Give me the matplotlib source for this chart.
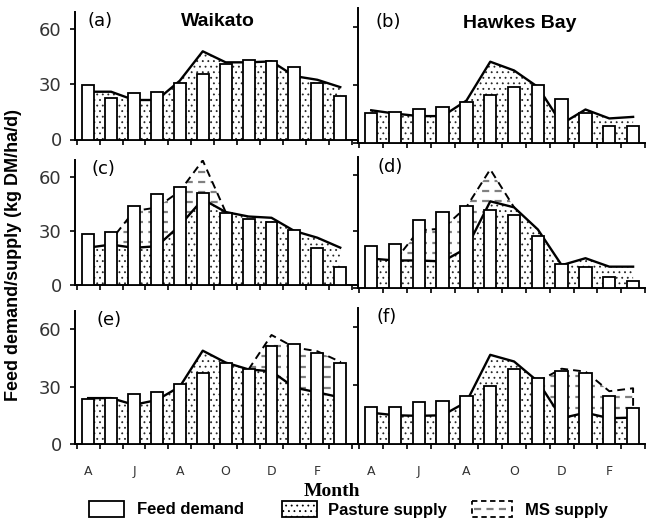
import numpy as np
import matplotlib
matplotlib.use('Agg')
import matplotlib.pyplot as plt
from matplotlib.patches import Rectangle

# month axis (April to March)
months = ['A', 'M', 'J', 'J', 'A', 'S', 'O', 'N', 'D', 'J', 'F', 'M']
tick_labels = ['A', 'J', 'A', 'O', 'D', 'F']
x = np.arange(len(months))

# (a) Waikato
demand_a = [29.6, 22.8, 25.4, 26.1, 30.6, 35.4, 41.1, 43.3, 42.9, 39.4, 30.6, 23.7]
pasture_a = [26, 26, 21.5, 21.5, 32, 48, 42, 42, 42.5, 34.5, 32.5, 28.5]
# (b) Hawkes Bay
demand_b = [15.7, 16, 17.9, 18.6, 21.5, 25, 28.8, 30.2, 23, 15.7, 8.9, 8.9]
pasture_b = [17, 15.3, 14, 14, 22, 42, 37.5, 29, 10, 17.4, 12.8, 13.6]
# (c) Waikato
demand_c = [28.2, 29.3, 43.9, 50.4, 54.2, 51.1, 40, 36.7, 35, 30.6, 20.5, 10.3]
pasture_c = [20.8, 22.5, 20.7, 21.6, 33, 47.5, 40.5, 38, 37.3, 30, 26.3, 20.8]
ms_c = [None, 25, 41, 43, 52, 69, 40.5, None, None, None, None, None]
# (d) Hawkes Bay
demand_d = [22.3, 23.2, 36.2, 40.1, 43.3, 41.5, 38.5, 27.3, 12.5, 11.2, 5.9, 3.6]
pasture_d = [15.5, 14.5, 14.5, 14, 21, 46, 42.8, 31, 12, 15.7, 11.2, 11.2]
ms_d = [None, 14.5, 30.5, 31.5, 43, 63, 42.8, None, None, None, None, None]
# (e) Waikato
demand_e = [23.4, 23.9, 26.2, 27.2, 31.6, 37, 42.6, 39.4, 51, 52.4, 47.5, 42.2]
pasture_e = [24, 24, 20.5, 23, 30, 48.8, 42.6, 39, 38, 29.5, 27, 24.4]
ms_e = [None, None, None, None, None, None, None, 39, 57, 50.5, 48.5, 43]
# (f) Hawkes Bay
demand_f = [18.8, 19.1, 21.4, 22.2, 24.6, 29.9, 38.3, 33.7, 37.4, 36.2, 24.3, 18.3]
pasture_f = [16, 14.7, 14.4, 14.7, 21.5, 45.6, 42.2, 32, 13.2, 16, 13.2, 13.5]
ms_f = [None, None, None, None, None, None, None, 32, 38.5, 37, 27, 28.5]

W, H = 647, 519
plt.rcParams['font.family'] = 'DejaVu Sans'
plt.rcParams['hatch.linewidth'] = 0.6
fig = plt.figure(figsize=(W / 100, H / 100), dpi=100)


def place(x0, x1, top, bottom):
    return [x0 / W, 1 - bottom / H, (x1 - x0) / W, (bottom - top) / H]


def draw_panel(ax, demand, pasture, ms=None):
    pasture = np.asarray(pasture, float)
    ax.fill_between(x, 0, pasture, facecolor='white', edgecolor='0.15',
                    hatch='...', linewidth=0, zorder=1)
    ax.plot(x, pasture, color='black', lw=1.7, zorder=2)
    if ms is not None:
        ms = np.array(ms, dtype=float)
        idx = np.where(~np.isnan(ms))[0]
        xs, lo, hi = x[idx], pasture[idx], ms[idx]
        poly = ax.fill_between(xs, lo, hi, facecolor='white', edgecolor='none', zorder=1.5)
        clip = poly.get_paths()[0]
        for yy in np.arange(2, 72, 5.5):
            ln, = ax.plot([xs[0], xs[-1]], [yy, yy], color='0.5', lw=1.6,
                          dashes=(3.2, 2.4), zorder=1.6)
            ln.set_clip_path(clip, ax.transData)
        ox = np.r_[xs[0], xs, xs[-1]]
        oy = np.r_[lo[0], hi, lo[-1]]
        ax.plot(ox, oy, color='black', lw=1.4, dashes=(4, 2.6), zorder=2)
    ax.bar(x, demand, width=0.52, color='white', edgecolor='black', lw=1.3, zorder=3)


panels = [
    ('(a)', demand_a, pasture_a, None, 'L', 11.8, 139.5, (100, 21)),
    ('(b)', demand_b, pasture_b, None, 'R', 8.3, 143.3, (388, 22)),
    ('(c)', demand_c, pasture_c, ms_c, 'L', 159.5, 285.3, (103, 169)),
    ('(d)', demand_d, pasture_d, ms_d, 'R', 157.2, 287.7, (390, 167.5)),
    ('(e)', demand_e, pasture_e, ms_e, 'L', 311.1, 444, (109, 320)),
    ('(f)', demand_f, pasture_f, ms_f, 'R', 308.1, 444, (387, 317.5)),
]

for i, (lab, dem, pas, ms, side, top, bot, lpos) in enumerate(panels):
    if side == 'L':
        ax = fig.add_axes(place(75, 358, top, bot))
        ax.set_xlim(-0.574, 11.775)
    else:
        ax = fig.add_axes(place(358, 645, top, bot))
        ax.set_xlim(-0.555, 11.5)
    ax.set_ylim(0, 69.5)
    ax.patch.set_alpha(0)
    draw_panel(ax, dem, pas, ms)
    for s in ['top', 'right']:
        ax.spines[s].set_visible(False)
    for s in ['left', 'bottom']:
        ax.spines[s].set_linewidth(1.4)
    ax.set_yticks([0, 30, 60])
    ax.set_xticks(x[::2])
    ax.set_xticklabels(tick_labels)
    ax.set_xticks(np.arange(-0.5, 12, 1), minor=True)
    ax.tick_params(axis='x', which='major', length=0, pad=15, labelsize=9,
                   labelcolor='#333')
    ax.tick_params(axis='x', which='minor', length=3.6, width=1.2, direction='out')
    ax.tick_params(axis='y', length=3.6, width=1.2, pad=6, labelsize=13,
                   labelcolor='#333')
    if side == 'R':
        ax.tick_params(axis='y', labelleft=False)
    if i < 4:
        ax.tick_params(axis='x', which='major', labelbottom=False)
    fig.text(lpos[0] / W, 1 - lpos[1] / H, lab, fontsize=13, ha='center', va='center')

fig.text(217.5 / W, 1 - 21.7 / H, 'Waikato', family='Liberation Sans',
         weight='bold', fontsize=14, ha='center', va='center')
fig.text(520 / W, 1 - 24 / H, 'Hawkes Bay', family='Liberation Sans',
         weight='bold', fontsize=14, ha='center', va='center')
fig.text(14 / W, 1 - 255 / H, 'Feed demand/supply (kg DM/ha/d)', family='Liberation Sans',
         weight='bold', fontsize=13, rotation=90, ha='center', va='center')
fig.text(332 / W, 1 - 492 / H, 'Month', family='Liberation Serif', weight='bold',
         fontsize=14, ha='center', va='center')

# legend
lax = fig.add_axes([0, 0, 1, 1])
lax.set_xlim(0, W)
lax.set_ylim(H, 0)
lax.axis('off')
lax.add_patch(Rectangle((89, 501), 35, 16, facecolor='white', edgecolor='black', lw=1.3))
lax.add_patch(Rectangle((282, 501), 35, 16, facecolor='white', edgecolor='black',
                        hatch='...', lw=1.3))
lax.add_patch(Rectangle((472, 501), 40, 16, facecolor='white', edgecolor='black',
                        lw=1.3, linestyle=(0, (3, 2))))
lax.plot([474, 510], [509, 509], color='0.5', lw=1.6, dashes=(3.2, 2.4))
for tx, txt in [(137, 'Feed demand'), (328, 'Pasture supply'), (525, 'MS supply')]:
    lax.text(tx, 510, txt, family='Liberation Sans', weight='bold', fontsize=12,
             ha='left', va='center')

fig.savefig('out.png', dpi=100)
